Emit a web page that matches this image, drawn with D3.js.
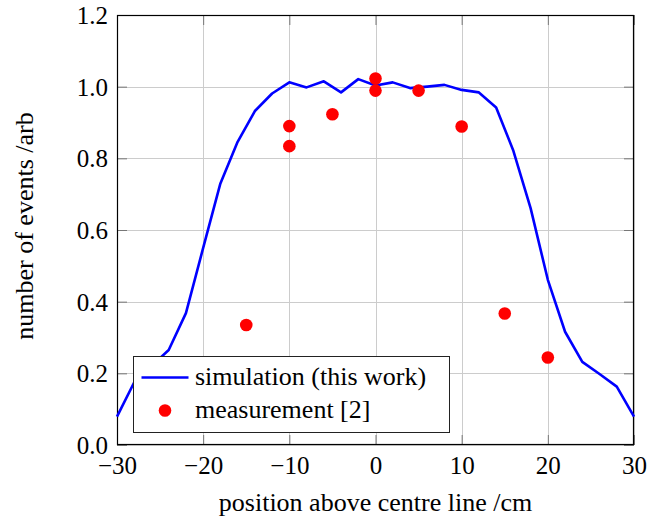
<!DOCTYPE html>
<html>
<head>
<meta charset="utf-8">
<script src="https://cdn.jsdelivr.net/npm/d3@7"></script>
<style>
  body { margin: 0; background: #fff; }
  svg { display: block; }
  svg text { font-family: "Liberation Serif", "Times New Roman", serif; fill: #000; }
  .tick text { font-family: "Liberation Serif", "Times New Roman", serif !important; font-size: 25px; fill: #000; }
</style>
</head>
<body>
<svg id="chart" width="667" height="524"></svg>
<script>
// ---- data ----
const simX = [-30,-28,-26,-24,-22,-20,-18,-16,-14,-12,-10,-8,-6,-4,-2,0,2,4,6,8,10,12,14,16,18,20,22,24,26,28,30];
const simY = [0.079,0.175,0.220,0.265,0.368,0.550,0.730,0.846,0.932,0.981,1.012,0.998,1.015,0.984,1.021,1.003,1.012,0.996,1.000,1.005,0.991,0.984,0.942,0.821,0.661,0.461,0.316,0.232,0.198,0.163,0.079];
const measX = [-15,-10,-10,-5,0,0,5,10,15,20];
const measY = [0.335,0.890,0.834,0.923,1.023,0.989,0.989,0.889,0.367,0.244];
const xTicks = [-30,-20,-10,0,10,20,30];
const yTicks = [0,0.2,0.4,0.6,0.8,1.0,1.2];
const seriesNames = ["simulation (this work)", "measurement [2]"];
const xLabel = "position above centre line /cm";
const yLabel = "number of events /arb";

// ---- layout ----
const L = 117, R = 634, T = 15, B = 445;
const svg = d3.select("#chart");
const x = d3.scaleLinear().domain([-30, 30]).range([L, R]);
const y = d3.scaleLinear().domain([0, 1.2]).range([B, T]);

const fmtX = d => (d < 0 ? "\u2212" + Math.abs(d) : String(d));
const fmtY = d => d.toFixed(1);

// grid
const grid = svg.append("g").attr("stroke", "#cccccc").attr("stroke-width", 1);
grid.selectAll(".gx").data(xTicks).join("line")
  .attr("x1", d => Math.round(x(d)) + 0.5).attr("x2", d => Math.round(x(d)) + 0.5)
  .attr("y1", T).attr("y2", B);
grid.selectAll(".gy").data(yTicks).join("line")
  .attr("y1", d => Math.round(y(d)) + 0.5).attr("y2", d => Math.round(y(d)) + 0.5)
  .attr("x1", L).attr("x2", R);

// ticks (inside, all four sides) via d3 axes
const tickLen = 10;
const axB = svg.append("g").attr("transform", `translate(0,${B})`)
  .call(d3.axisBottom(x).tickValues(xTicks).tickSize(-tickLen).tickFormat(fmtX));
const axT = svg.append("g").attr("transform", `translate(0,${T})`)
  .call(d3.axisTop(x).tickValues(xTicks).tickSize(-tickLen).tickFormat(""));
const axL = svg.append("g").attr("transform", `translate(${L},0)`)
  .call(d3.axisLeft(y).tickValues(yTicks).tickSize(-tickLen).tickFormat(fmtY));
const axR = svg.append("g").attr("transform", `translate(${R},0)`)
  .call(d3.axisRight(y).tickValues(yTicks).tickSize(-tickLen).tickFormat(""));
[axB, axT, axL, axR].forEach(a => {
  a.attr("font-family", null).attr("font-size", null);
  a.select(".domain").remove();
  a.selectAll(".tick line").attr("stroke", "#777").attr("stroke-width", 1);
});
axB.selectAll(".tick text")
  .attr("y", 0).attr("dy", null)
  .attr("transform", "translate(0,29)")
  .attr("fill", "#000");
axL.selectAll(".tick text")
  .attr("x", 0).attr("dy", null).attr("y", 0)
  .attr("text-anchor", "end")
  .attr("transform", "translate(-9,8.5)")
  .attr("fill", "#000");

// frame
svg.append("rect").attr("x", L + 0.5).attr("y", T + 0.5)
  .attr("width", R - L - 1).attr("height", B - T - 1)
  .attr("fill", "none").attr("stroke", "#000").attr("stroke-width", 1.2);

// simulation line
const simData = simX.map((d, i) => ({ x: d, y: simY[i] }));
svg.append("path").datum(simData)
  .attr("fill", "none").attr("stroke", "#0000ff").attr("stroke-width", 2.6)
  .attr("stroke-linejoin", "round")
  .attr("d", d3.line().x(d => x(d.x)).y(d => y(d.y)));

// measurements
const measData = measX.map((d, i) => ({ x: d, y: measY[i] }));
svg.append("g").selectAll("circle").data(measData).join("circle")
  .attr("cx", d => x(d.x)).attr("cy", d => y(d.y)).attr("r", 6.3)
  .attr("fill", "#ff0000");

// axis labels
svg.append("text").attr("x", (L + R) / 2).attr("y", 511)
  .attr("text-anchor", "middle").style("font-size", "26px").text(xLabel);
svg.append("text").attr("transform", `translate(33,${(T + B) / 2 - 4}) rotate(-90)`)
  .attr("text-anchor", "middle").style("font-size", "26px").text(yLabel);

// legend
const lg = svg.append("g");
lg.append("rect").attr("x", 133.5).attr("y", 356.5).attr("width", 316).attr("height", 76)
  .attr("fill", "#fff").attr("stroke", "#222").attr("stroke-width", 1);
lg.append("line").attr("x1", 141.5).attr("x2", 188.5).attr("y1", 377.5).attr("y2", 377.5)
  .attr("stroke", "#0000ff").attr("stroke-width", 2.6);
lg.append("circle").attr("cx", 165).attr("cy", 410.5).attr("r", 6.3).attr("fill", "#ff0000");
lg.append("text").attr("x", 195).attr("y", 385).style("font-size", "26px").text(seriesNames[0]);
lg.append("text").attr("x", 195).attr("y", 418).style("font-size", "26px").text(seriesNames[1]);
</script>
</body>
</html>
